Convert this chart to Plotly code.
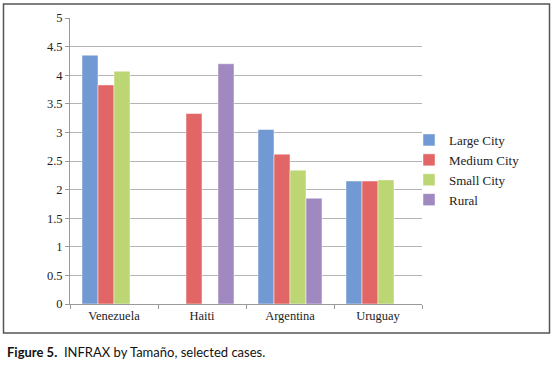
import plotly.graph_objects as go

countries = ["Venezuela", "Haiti", "Argentina", "Uruguay"]
series_names = ["Large City", "Medium City", "Small City", "Rural"]
large_city = [4.35, None, 3.05, 2.15]
medium_city = [3.83, 3.33, 2.62, 2.15]
small_city = [4.07, None, 2.34, 2.17]
rural = [None, 4.20, 1.85, None]
y_ticks = [0, 0.5, 1, 1.5, 2, 2.5, 3, 3.5, 4, 4.5, 5]
y_tick_labels = ["0", "0.5", "1", "1.5", "2", "2.5", "3", "3.5", "4", "4.5", "5"]

colors = ["#7199d3", "#e26665", "#bcd673", "#a088c0"]
values = [large_city, medium_city, small_city, rural]

W, H = 554, 370
# plot area in pixels: x 70..422, y 18..304
L, T = 70, 18
R = W - 422
B = H - 304

fig = go.Figure()
for name, vals, col in zip(series_names, values, colors):
    fig.add_trace(go.Bar(
        x=countries, y=vals, name=name,
        marker=dict(color=col, line=dict(color="rgba(255,255,255,0.6)", width=0.8)),
    ))

pw = W - L - R
ph = H - T - B
def px(xw):
    return (xw - L) / pw
def py(yw):
    return (H - B - yw) / ph

fig.update_layout(
    width=W, height=H,
    margin=dict(l=L, r=R, t=T, b=B, autoexpand=False),
    paper_bgcolor="white", plot_bgcolor="white",
    barmode="group", bargap=0.273, bargroupgap=0,
    font=dict(family="Liberation Serif", size=12, color="#222222"),
    showlegend=True,
    legend=dict(
        x=px(409), y=py(125), xanchor="left", yanchor="top",
        font=dict(family="Liberation Serif", size=13, color="#222222"),
        itemwidth=30, tracegroupgap=0, bgcolor="rgba(0,0,0,0)",
    ),
    xaxis=dict(
        type="category", showgrid=False, showline=True, linecolor="#9a9a9a", linewidth=1,
        ticks="outside", tickson="boundaries", ticklen=4, tickcolor="#9a9a9a",
        tickfont=dict(family="Liberation Serif", size=12.5, color="#222222"),
        fixedrange=True,
    ),
    yaxis=dict(
        range=[0, 5], tickvals=y_ticks, ticktext=y_tick_labels,
        showgrid=True, gridcolor="#b3b3b3", gridwidth=1,
        showline=True, linecolor="#9a9a9a", linewidth=1,
        ticks="outside", ticklen=4, tickcolor="#9a9a9a",
        tickfont=dict(family="Liberation Serif", size=12.5, color="#222222"),
        zeroline=False,
    ),
    shapes=[dict(
        type="rect", xref="paper", yref="paper",
        x0=px(3.5), x1=px(549.5), y0=py(4), y1=py(333),
        line=dict(color="#555555", width=1.5), fillcolor="rgba(0,0,0,0)", layer="below",
    )],
    annotations=[dict(
        xref="paper", yref="paper", x=px(5), y=py(352), xanchor="left", yanchor="middle",
        text="<b>Figure 5.</b>  INFRAX by Tamaño, selected cases.", showarrow=False,
        font=dict(family="Lato", size=13, color="#111111"),
    )],
)

fig.write_html(
    "out.html",
    config={"displayModeBar": False},
    post_script="document.body.style.margin='0';document.body.style.overflow='hidden';",
)
